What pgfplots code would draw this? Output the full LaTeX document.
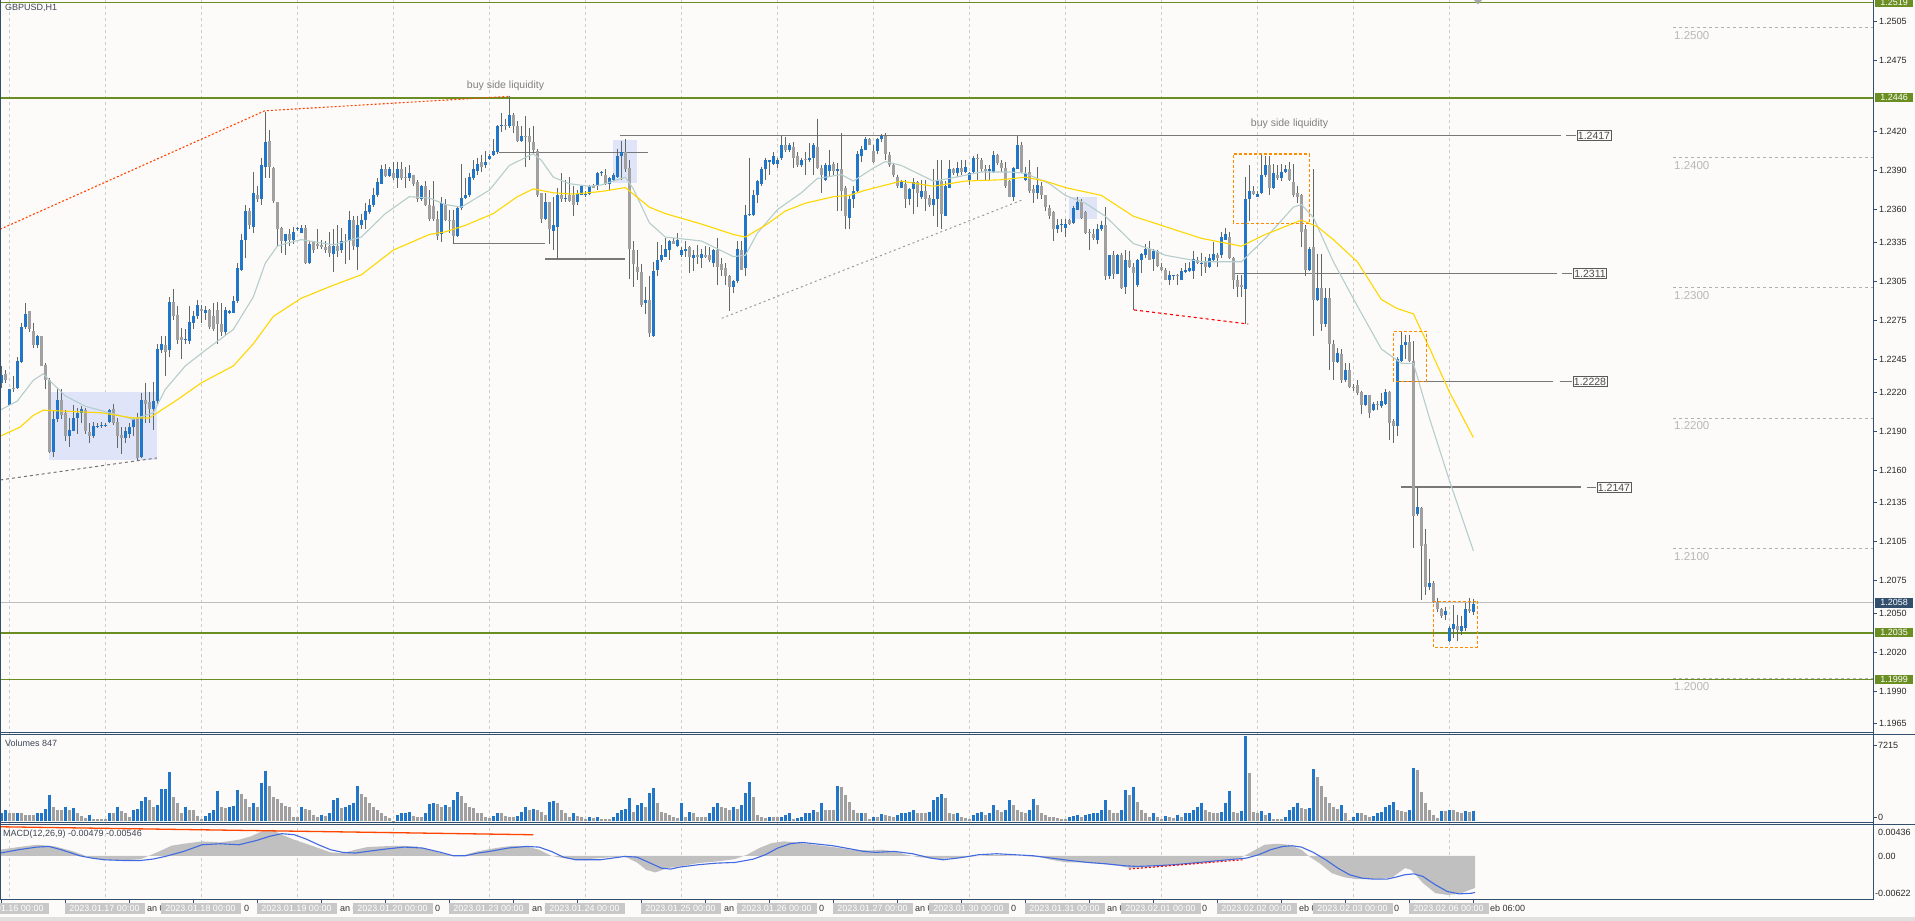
\documentclass[border=0pt]{standalone}
\usepackage{pgfplots}
\pgfplotsset{compat=1.18}
\usepackage{pgfplotstable}
\usepackage{fontspec}
\setmainfont{Liberation Sans}
\definecolor{bg}{RGB}{253,251,249}
\definecolor{bull}{RGB}{33,118,199}
\definecolor{bear}{RGB}{160,160,160}
\definecolor{wick}{RGB}{95,105,105}
\definecolor{lvl}{RGB}{107,142,35}
\definecolor{frame}{RGB}{50,80,110}
\definecolor{gridc}{RGB}{205,205,205}
\definecolor{maslow}{RGB}{255,215,0}
\definecolor{mafast}{RGB}{180,205,205}
\definecolor{boxc}{RGB}{224,228,248}
\definecolor{orng}{RGB}{255,140,0}
\definecolor{redo}{RGB}{255,69,0}
\definecolor{hline}{RGB}{120,120,120}
\definecolor{axtext}{RGB}{40,40,40}
\definecolor{macdg}{RGB}{192,192,192}
\definecolor{sigb}{RGB}{65,105,225}
\definecolor{datebox}{RGB}{200,200,200}
\newcommand\axf{\fontsize{9}{10}\selectfont}

\pgfplotstableread{
i o h l c
0 1.2227 1.2240 1.2223 1.2233
1 1.2234 1.2237 1.2227 1.2229
2 1.2210 1.2222 1.2210 1.2222
3 1.2223 1.2232 1.2220 1.2222
4 1.2223 1.2247 1.2222 1.2244
5 1.2243 1.2273 1.2242 1.2270
6 1.2270 1.2288 1.2268 1.2280
7 1.2282 1.2282 1.2266 1.2268
8 1.2267 1.2273 1.2254 1.2256
9 1.2256 1.2264 1.2254 1.2263
10 1.2263 1.2263 1.2240 1.2240
11 1.2241 1.2242 1.2222 1.2229
12 1.2229 1.2231 1.2173 1.2174
13 1.2174 1.2205 1.2170 1.2199
14 1.2199 1.2223 1.2197 1.2214
15 1.2214 1.2222 1.2199 1.2202
16 1.2204 1.2206 1.2182 1.2186
17 1.2186 1.2200 1.2178 1.2191
18 1.2190 1.2210 1.2190 1.2200
19 1.2200 1.2208 1.2188 1.2204
20 1.2204 1.2209 1.2196 1.2207
21 1.2206 1.2208 1.2188 1.2190
22 1.2189 1.2196 1.2181 1.2186
23 1.2186 1.2197 1.2185 1.2194
24 1.2193 1.2196 1.2192 1.2194
25 1.2194 1.2197 1.2192 1.2195
26 1.2194 1.2196 1.2193 1.2195
27 1.2197 1.2207 1.2196 1.2206
28 1.2207 1.2211 1.2195 1.2196
29 1.2197 1.2200 1.2177 1.2186
30 1.2187 1.2193 1.2172 1.2185
31 1.2185 1.2193 1.2181 1.2190
32 1.2188 1.2196 1.2185 1.2193
33 1.2193 1.2200 1.2186 1.2199
34 1.2200 1.2204 1.2168 1.2169
35 1.2170 1.2219 1.2169 1.2214
36 1.2214 1.2227 1.2196 1.2211
37 1.2212 1.2220 1.2196 1.2207
38 1.2207 1.2228 1.2191 1.2213
39 1.2213 1.2257 1.2211 1.2253
40 1.2252 1.2263 1.2250 1.2257
41 1.2256 1.2263 1.2232 1.2251
42 1.2252 1.2293 1.2247 1.2289
43 1.2289 1.2299 1.2275 1.2278
44 1.2279 1.2286 1.2257 1.2260
45 1.2262 1.2269 1.2245 1.2260
46 1.2260 1.2268 1.2257 1.2261
47 1.2259 1.2286 1.2257 1.2274
48 1.2273 1.2282 1.2268 1.2278
49 1.2278 1.2291 1.2276 1.2287
50 1.2284 1.2287 1.2273 1.2282
51 1.2281 1.2286 1.2275 1.2283
52 1.2283 1.2284 1.2268 1.2270
53 1.2278 1.2288 1.2267 1.2268
54 1.2283 1.2289 1.2257 1.2272
55 1.2272 1.2288 1.2263 1.2266
56 1.2266 1.2285 1.2264 1.2283
57 1.2281 1.2283 1.2280 1.2282
58 1.2281 1.2294 1.2281 1.2290
59 1.2290 1.2319 1.2288 1.2315
60 1.2314 1.2341 1.2313 1.2337
61 1.2337 1.2364 1.2323 1.2359
62 1.2359 1.2361 1.2345 1.2348
63 1.2347 1.2389 1.2342 1.2373
64 1.2371 1.2378 1.2366 1.2368
65 1.2368 1.2400 1.2364 1.2394
66 1.2393 1.2435 1.2384 1.2412
67 1.2413 1.2421 1.2384 1.2393
68 1.2392 1.2393 1.2365 1.2367
69 1.2366 1.2366 1.2332 1.2345
70 1.2346 1.2347 1.2327 1.2336
71 1.2336 1.2341 1.2325 1.2341
72 1.2341 1.2345 1.2332 1.2337
73 1.2337 1.2347 1.2334 1.2343
74 1.2345 1.2347 1.2344 1.2346
75 1.2342 1.2348 1.2342 1.2346
76 1.2346 1.2348 1.2318 1.2319
77 1.2319 1.2336 1.2318 1.2334
78 1.2336 1.2336 1.2327 1.2329
79 1.2334 1.2345 1.2330 1.2332
80 1.2333 1.2337 1.2330 1.2331
81 1.2331 1.2336 1.2327 1.2329
82 1.2332 1.2343 1.2324 1.2327
83 1.2326 1.2345 1.2312 1.2332
84 1.2332 1.2348 1.2324 1.2328
85 1.2329 1.2346 1.2327 1.2336
86 1.2335 1.2341 1.2318 1.2336
87 1.2336 1.2359 1.2321 1.2352
88 1.2352 1.2355 1.2329 1.2332
89 1.2331 1.2355 1.2314 1.2348
90 1.2348 1.2357 1.2345 1.2352
91 1.2352 1.2365 1.2345 1.2359
92 1.2358 1.2368 1.2357 1.2364
93 1.2364 1.2377 1.2362 1.2371
94 1.2371 1.2384 1.2370 1.2381
95 1.2380 1.2394 1.2380 1.2391
96 1.2391 1.2395 1.2385 1.2386
97 1.2386 1.2393 1.2385 1.2391
98 1.2388 1.2397 1.2383 1.2384
99 1.2384 1.2397 1.2377 1.2391
100 1.2391 1.2397 1.2383 1.2384
101 1.2385 1.2393 1.2377 1.2384
102 1.2384 1.2394 1.2382 1.2388
103 1.2387 1.2387 1.2378 1.2380
104 1.2381 1.2383 1.2366 1.2368
105 1.2368 1.2379 1.2367 1.2378
106 1.2378 1.2382 1.2363 1.2364
107 1.2364 1.2375 1.2351 1.2353
108 1.2363 1.2382 1.2351 1.2353
109 1.2353 1.2359 1.2337 1.2340
110 1.2341 1.2370 1.2335 1.2365
111 1.2364 1.2368 1.2351 1.2352
112 1.2352 1.2360 1.2342 1.2351
113 1.2352 1.2360 1.2334 1.2340
114 1.2340 1.2362 1.2339 1.2361
115 1.2361 1.2395 1.2360 1.2369
116 1.2369 1.2384 1.2368 1.2371
117 1.2371 1.2388 1.2370 1.2385
118 1.2384 1.2398 1.2383 1.2391
119 1.2390 1.2400 1.2387 1.2395
120 1.2397 1.2402 1.2389 1.2393
121 1.2394 1.2405 1.2392 1.2397
122 1.2399 1.2403 1.2398 1.2401
123 1.2402 1.2414 1.2401 1.2405
124 1.2404 1.2425 1.2403 1.2424
125 1.2424 1.2434 1.2420 1.2425
126 1.2425 1.2430 1.2421 1.2424
127 1.2424 1.2447 1.2423 1.2433
128 1.2433 1.2434 1.2419 1.2424
129 1.2424 1.2428 1.2412 1.2413
130 1.2413 1.2424 1.2412 1.2417
131 1.2417 1.2432 1.2393 1.2416
132 1.2417 1.2423 1.2398 1.2412
133 1.2412 1.2424 1.2403 1.2406
134 1.2405 1.2407 1.2370 1.2371
135 1.2373 1.2373 1.2350 1.2353
136 1.2353 1.2373 1.2352 1.2366
137 1.2366 1.2366 1.2334 1.2345
138 1.2344 1.2370 1.2329 1.2348
139 1.2347 1.2377 1.2322 1.2371
140 1.2371 1.2388 1.2366 1.2368
141 1.2368 1.2383 1.2366 1.2369
142 1.2371 1.2385 1.2366 1.2367
143 1.2371 1.2378 1.2355 1.2364
144 1.2366 1.2375 1.2364 1.2372
145 1.2371 1.2379 1.2371 1.2378
146 1.2371 1.2374 1.2370 1.2372
147 1.2372 1.2379 1.2371 1.2378
148 1.2378 1.2380 1.2377 1.2377
149 1.2378 1.2389 1.2375 1.2388
150 1.2388 1.2390 1.2386 1.2389
151 1.2387 1.2391 1.2379 1.2380
152 1.2380 1.2385 1.2375 1.2384
153 1.2383 1.2388 1.2382 1.2387
154 1.2385 1.2407 1.2384 1.2401
155 1.2401 1.2413 1.2383 1.2404
156 1.2404 1.2414 1.2389 1.2391
157 1.2392 1.2398 1.2307 1.2330
158 1.2329 1.2336 1.2301 1.2318
159 1.2316 1.2329 1.2306 1.2312
160 1.2312 1.2318 1.2285 1.2287
161 1.2288 1.2301 1.2280 1.2291
162 1.2291 1.2309 1.2262 1.2265
163 1.2263 1.2320 1.2262 1.2313
164 1.2314 1.2335 1.2309 1.2321
165 1.2321 1.2333 1.2320 1.2325
166 1.2324 1.2338 1.2324 1.2330
167 1.2329 1.2337 1.2321 1.2336
168 1.2336 1.2338 1.2334 1.2334
169 1.2332 1.2342 1.2331 1.2337
170 1.2325 1.2331 1.2324 1.2329
171 1.2328 1.2336 1.2324 1.2330
172 1.2331 1.2332 1.2311 1.2324
173 1.2323 1.2329 1.2313 1.2325
174 1.2325 1.2333 1.2318 1.2324
175 1.2323 1.2330 1.2315 1.2326
176 1.2325 1.2332 1.2323 1.2324
177 1.2325 1.2331 1.2320 1.2321
178 1.2319 1.2330 1.2316 1.2329
179 1.2329 1.2338 1.2302 1.2316
180 1.2318 1.2323 1.2309 1.2314
181 1.2315 1.2319 1.2302 1.2309
182 1.2309 1.2310 1.2282 1.2301
183 1.2301 1.2306 1.2296 1.2305
184 1.2305 1.2336 1.2304 1.2330
185 1.2329 1.2336 1.2314 1.2314
186 1.2315 1.2364 1.2309 1.2356
187 1.2356 1.2400 1.2355 1.2357
188 1.2356 1.2375 1.2355 1.2371
189 1.2371 1.2383 1.2365 1.2382
190 1.2380 1.2393 1.2378 1.2391
191 1.2391 1.2400 1.2383 1.2398
192 1.2397 1.2398 1.2387 1.2398
193 1.2395 1.2404 1.2394 1.2401
194 1.2395 1.2400 1.2392 1.2398
195 1.2400 1.2417 1.2398 1.2410
196 1.2410 1.2416 1.2404 1.2406
197 1.2406 1.2411 1.2404 1.2410
198 1.2408 1.2412 1.2392 1.2400
199 1.2401 1.2404 1.2393 1.2394
200 1.2394 1.2400 1.2393 1.2398
201 1.2399 1.2404 1.2387 1.2398
202 1.2398 1.2411 1.2397 1.2400
203 1.2400 1.2411 1.2387 1.2410
204 1.2408 1.2430 1.2391 1.2392
205 1.2392 1.2394 1.2373 1.2387
206 1.2383 1.2396 1.2382 1.2394
207 1.2390 1.2406 1.2386 1.2394
208 1.2395 1.2397 1.2387 1.2390
209 1.2390 1.2396 1.2359 1.2391
210 1.2391 1.2419 1.2359 1.2374
211 1.2377 1.2378 1.2345 1.2355
212 1.2354 1.2371 1.2345 1.2368
213 1.2368 1.2378 1.2361 1.2374
214 1.2374 1.2405 1.2373 1.2403
215 1.2401 1.2409 1.2397 1.2407
216 1.2406 1.2416 1.2406 1.2414
217 1.2414 1.2415 1.2410 1.2410
218 1.2405 1.2410 1.2396 1.2397
219 1.2405 1.2415 1.2403 1.2414
220 1.2414 1.2418 1.2412 1.2417
221 1.2417 1.2419 1.2398 1.2403
222 1.2402 1.2404 1.2393 1.2394
223 1.2394 1.2396 1.2385 1.2387
224 1.2385 1.2387 1.2377 1.2378
225 1.2377 1.2383 1.2377 1.2382
226 1.2380 1.2383 1.2361 1.2368
227 1.2368 1.2377 1.2364 1.2376
228 1.2376 1.2384 1.2357 1.2381
229 1.2381 1.2382 1.2362 1.2373
230 1.2370 1.2383 1.2368 1.2374
231 1.2374 1.2383 1.2359 1.2368
232 1.2369 1.2371 1.2362 1.2364
233 1.2364 1.2391 1.2355 1.2368
234 1.2368 1.2398 1.2347 1.2383
235 1.2382 1.2398 1.2345 1.2357
236 1.2355 1.2382 1.2355 1.2378
237 1.2377 1.2398 1.2377 1.2391
238 1.2391 1.2392 1.2387 1.2388
239 1.2388 1.2397 1.2385 1.2392
240 1.2392 1.2398 1.2387 1.2389
241 1.2389 1.2398 1.2388 1.2393
242 1.2383 1.2389 1.2379 1.2388
243 1.2389 1.2401 1.2388 1.2400
244 1.2400 1.2403 1.2383 1.2399
245 1.2398 1.2400 1.2389 1.2391
246 1.2391 1.2394 1.2383 1.2390
247 1.2390 1.2394 1.2383 1.2391
248 1.2389 1.2405 1.2388 1.2402
249 1.2402 1.2403 1.2394 1.2396
250 1.2396 1.2398 1.2389 1.2392
251 1.2392 1.2397 1.2377 1.2378
252 1.2382 1.2383 1.2370 1.2370
253 1.2370 1.2393 1.2367 1.2392
254 1.2391 1.2417 1.2391 1.2410
255 1.2410 1.2412 1.2388 1.2389
256 1.2383 1.2393 1.2382 1.2388
257 1.2389 1.2398 1.2373 1.2374
258 1.2376 1.2379 1.2365 1.2373
259 1.2373 1.2393 1.2368 1.2379
260 1.2378 1.2381 1.2368 1.2371
261 1.2371 1.2371 1.2359 1.2362
262 1.2361 1.2364 1.2353 1.2355
263 1.2358 1.2359 1.2336 1.2345
264 1.2345 1.2353 1.2342 1.2348
265 1.2348 1.2353 1.2343 1.2349
266 1.2346 1.2353 1.2339 1.2349
267 1.2352 1.2353 1.2348 1.2349
268 1.2350 1.2363 1.2349 1.2361
269 1.2360 1.2370 1.2360 1.2366
270 1.2366 1.2368 1.2353 1.2354
271 1.2358 1.2359 1.2341 1.2342
272 1.2343 1.2345 1.2329 1.2342
273 1.2341 1.2345 1.2337 1.2338
274 1.2337 1.2349 1.2334 1.2345
275 1.2345 1.2351 1.2344 1.2348
276 1.2348 1.2362 1.2306 1.2309
277 1.2309 1.2325 1.2307 1.2325
278 1.2325 1.2328 1.2307 1.2311
279 1.2311 1.2326 1.2311 1.2325
280 1.2325 1.2327 1.2299 1.2300
281 1.2301 1.2329 1.2295 1.2321
282 1.2321 1.2328 1.2315 1.2316
283 1.2316 1.2319 1.2283 1.2311
284 1.2302 1.2322 1.2301 1.2321
285 1.2321 1.2327 1.2311 1.2326
286 1.2325 1.2334 1.2323 1.2330
287 1.2330 1.2336 1.2321 1.2321
288 1.2322 1.2330 1.2313 1.2328
289 1.2328 1.2329 1.2316 1.2317
290 1.2316 1.2319 1.2313 1.2314
291 1.2314 1.2315 1.2306 1.2306
292 1.2306 1.2313 1.2302 1.2310
293 1.2309 1.2310 1.2306 1.2310
294 1.2310 1.2311 1.2302 1.2309
295 1.2306 1.2315 1.2306 1.2313
296 1.2312 1.2319 1.2311 1.2314
297 1.2313 1.2320 1.2312 1.2315
298 1.2313 1.2328 1.2307 1.2322
299 1.2321 1.2324 1.2318 1.2319
300 1.2318 1.2327 1.2309 1.2319
301 1.2320 1.2324 1.2311 1.2316
302 1.2316 1.2326 1.2315 1.2323
303 1.2321 1.2335 1.2320 1.2326
304 1.2325 1.2327 1.2316 1.2323
305 1.2325 1.2343 1.2323 1.2339
306 1.2337 1.2346 1.2337 1.2341
307 1.2339 1.2343 1.2322 1.2323
308 1.2323 1.2324 1.2299 1.2306
309 1.2306 1.2310 1.2293 1.2301
310 1.2302 1.2310 1.2293 1.2301
311 1.2299 1.2385 1.2272 1.2368
312 1.2368 1.2394 1.2351 1.2374
313 1.2374 1.2378 1.2371 1.2372
314 1.2370 1.2374 1.2370 1.2372
315 1.2373 1.2402 1.2372 1.2387
316 1.2387 1.2401 1.2385 1.2394
317 1.2394 1.2401 1.2371 1.2377
318 1.2377 1.2395 1.2376 1.2388
319 1.2387 1.2394 1.2383 1.2384
320 1.2384 1.2395 1.2382 1.2389
321 1.2389 1.2394 1.2388 1.2391
322 1.2391 1.2397 1.2382 1.2383
323 1.2381 1.2395 1.2370 1.2371
324 1.2373 1.2378 1.2365 1.2370
325 1.2371 1.2372 1.2331 1.2343
326 1.2345 1.2348 1.2309 1.2314
327 1.2314 1.2331 1.2313 1.2330
328 1.2331 1.2391 1.2263 1.2291
329 1.2291 1.2326 1.2290 1.2300
330 1.2300 1.2326 1.2267 1.2272
331 1.2272 1.2300 1.2270 1.2292
332 1.2292 1.2300 1.2237 1.2257
333 1.2257 1.2260 1.2229 1.2243
334 1.2243 1.2254 1.2242 1.2250
335 1.2249 1.2253 1.2227 1.2229
336 1.2229 1.2242 1.2228 1.2237
337 1.2237 1.2242 1.2223 1.2224
338 1.2224 1.2226 1.2221 1.2223
339 1.2225 1.2229 1.2218 1.2219
340 1.2220 1.2221 1.2203 1.2210
341 1.2210 1.2218 1.2209 1.2218
342 1.2218 1.2218 1.2200 1.2204
343 1.2206 1.2212 1.2205 1.2211
344 1.2211 1.2213 1.2206 1.2210
345 1.2209 1.2219 1.2208 1.2213
346 1.2211 1.2222 1.2210 1.2220
347 1.2220 1.2221 1.2183 1.2196
348 1.2198 1.2199 1.2181 1.2194
349 1.2194 1.2247 1.2186 1.2245
350 1.2244 1.2266 1.2243 1.2256
351 1.2256 1.2264 1.2245 1.2258
352 1.2258 1.2264 1.2243 1.2244
353 1.2244 1.2259 1.2100 1.2125
354 1.2126 1.2147 1.2125 1.2132
355 1.2131 1.2132 1.2060 1.2102
356 1.2103 1.2115 1.2064 1.2070
357 1.2070 1.2092 1.2068 1.2073
358 1.2073 1.2075 1.2058 1.2059
359 1.2059 1.2062 1.2051 1.2053
360 1.2053 1.2054 1.2046 1.2048
361 1.2049 1.2055 1.2045 1.2052
362 1.2029 1.2040 1.2028 1.2039
363 1.2038 1.2056 1.2031 1.2042
364 1.2040 1.2049 1.2029 1.2037
365 1.2036 1.2048 1.2033 1.2040
366 1.2039 1.2058 1.2036 1.2053
367 1.2053 1.2062 1.2050 1.2052
368 1.2051 1.2061 1.2049 1.2057
}\candles

\pgfplotstableread{
i v up
0 690 1
1 970 1
2 745 0
3 690 0
4 745 1
5 690 0
6 550 0
7 550 0
8 550 0
9 690 1
10 745 1
11 1030 1
12 2230 1
13 1250 0
14 970 0
15 970 0
16 1190 1
17 970 0
18 1110 1
19 690 0
20 460 0
21 270 0
22 550 1
23 180 0
24 180 0
25 180 0
26 180 0
27 690 1
28 690 0
29 1250 1
30 910 0
31 745 0
32 410 0
33 970 1
34 1030 1
35 1760 1
36 2090 1
37 1810 0
38 1250 0
39 1390 1
40 2710 1
41 2740 1
42 4200 1
43 2090 0
44 1530 0
45 690 0
46 1190 1
47 970 0
48 970 0
49 460 0
50 180 0
51 460 1
52 745 1
53 970 1
54 2600 1
55 1250 0
56 1110 0
57 1190 1
58 1310 1
59 2655 1
60 2320 0
61 1870 0
62 1250 0
63 1530 1
64 1250 0
65 3270 1
66 4260 1
67 2990 0
68 2090 0
69 1870 0
70 1530 0
71 1310 0
72 1250 0
73 410 0
74 410 0
75 1190 1
76 1030 0
77 970 0
78 550 0
79 410 0
80 550 1
81 460 0
82 745 1
83 1810 1
84 1950 1
85 1110 0
86 1190 1
87 1390 1
88 1530 1
89 2990 1
90 2320 0
91 2090 0
92 1530 0
93 1250 0
94 970 0
95 690 0
96 460 0
97 270 0
98 40 0
99 550 1
100 690 1
101 745 1
102 830 1
103 460 0
104 410 0
105 410 0
106 745 1
107 1475 1
108 1530 1
109 1475 0
110 1250 0
111 1390 1
112 1250 0
113 1810 1
114 2515 1
115 2150 0
116 1530 0
117 1250 0
118 1110 0
119 745 0
120 745 0
121 410 0
122 270 0
123 460 1
124 745 1
125 745 0
126 460 0
127 410 0
128 410 0
129 460 1
130 830 1
131 1250 1
132 970 0
133 1030 1
134 970 0
135 830 0
136 550 0
137 1670 1
138 1760 1
139 1530 0
140 970 0
141 690 0
142 410 0
143 690 1
144 460 0
145 410 0
146 180 0
147 410 1
148 270 0
149 410 1
150 180 0
151 180 0
152 180 0
153 410 1
154 690 1
155 970 1
156 1030 1
157 1950 1
158 830 0
159 1390 1
160 1530 1
161 1250 0
162 2430 1
163 2800 1
164 1530 0
165 830 0
166 690 0
167 550 0
168 410 0
169 270 0
170 1530 1
171 410 0
172 830 1
173 690 0
174 410 0
175 410 0
176 350 0
177 745 1
178 1250 1
179 1530 1
180 1250 0
181 1110 0
182 970 0
183 1250 1
184 1030 0
185 1390 1
186 2370 1
187 3360 1
188 2090 0
189 550 0
190 410 0
191 270 0
192 410 1
193 410 0
194 350 0
195 410 1
196 550 1
197 690 1
198 180 0
199 270 1
200 410 1
201 690 1
202 745 1
203 970 1
204 830 0
205 1590 1
206 970 0
207 970 0
208 970 0
209 2990 1
210 2940 0
211 2230 0
212 1670 0
213 970 0
214 690 0
215 745 1
216 690 0
217 180 0
218 410 1
219 410 0
220 630 1
221 550 0
222 460 0
223 410 0
224 550 1
225 690 1
226 745 1
227 830 1
228 970 1
229 745 0
230 745 0
231 745 0
232 830 1
233 1810 1
234 2090 1
235 2320 1
236 1950 0
237 690 0
238 630 0
239 690 1
240 410 0
241 270 0
242 180 0
243 550 1
244 690 1
245 830 1
246 550 0
247 745 1
248 1390 1
249 970 0
250 830 0
251 970 1
252 1810 1
253 1390 0
254 970 0
255 830 0
256 690 0
257 970 1
258 1870 1
259 1390 0
260 745 0
261 550 0
262 410 0
263 410 0
264 270 0
265 180 0
266 180 0
267 410 1
268 460 1
269 550 1
270 410 0
271 550 1
272 630 1
273 690 1
274 745 1
275 970 1
276 1810 1
277 970 0
278 745 0
279 690 0
280 970 1
281 2655 1
282 2230 0
283 2880 1
284 1670 0
285 970 0
286 690 0
287 410 0
288 745 1
289 410 0
290 180 0
291 460 1
292 410 0
293 270 0
294 550 1
295 410 0
296 690 1
297 745 1
298 970 1
299 1250 1
300 1530 1
301 970 0
302 830 0
303 745 0
304 690 0
305 830 1
306 1530 1
307 2600 1
308 830 0
309 745 0
310 910 1
311 7215 1
312 4120 0
313 830 0
314 690 0
315 910 1
316 550 0
317 690 1
318 180 0
319 180 0
320 180 0
321 410 1
322 970 1
323 1250 1
324 1530 1
325 1110 0
326 1030 0
327 1110 1
328 4450 1
329 3780 0
330 2990 0
331 2090 0
332 1530 0
333 1250 0
334 1030 0
335 1390 1
336 690 0
337 130 0
338 410 1
339 745 1
340 690 0
341 550 0
342 410 0
343 460 1
344 690 1
345 830 1
346 1250 1
347 1390 1
348 1620 1
349 970 0
350 910 0
351 830 0
352 970 1
353 4480 1
354 4340 0
355 2515 0
356 1530 0
357 970 0
358 550 0
359 270 0
360 910 1
361 910 0
362 970 1
363 970 0
364 830 0
365 745 0
366 910 1
367 830 0
368 860 1
}\vols

\pgfplotstableread{
i p
-0.3 1.2186
4.7 1.2193
8 1.2202
10.5 1.2206
25 1.2204
33 1.2200
37 1.2200
39 1.2204
44 1.2214
50 1.2227
58 1.2240
63 1.2257
68 1.2278
75 1.2292
83 1.2302
90 1.2310
98 1.2329
107 1.2341
111 1.2343
116 1.2348
123 1.2357
129 1.2370
133 1.2376
138 1.2373
143 1.2372
150 1.2374
156 1.2377
162 1.2362
166 1.2357
175 1.2349
183 1.2341
186 1.2339
191 1.2348
196 1.2359
201 1.2365
208 1.2370
212 1.2371
216 1.2375
225 1.2382
233 1.2378
241 1.2382
250 1.2383
256 1.2385
261 1.2382
266 1.2377
275 1.2371
283 1.2355
291 1.2347
300 1.2338
310 1.2332
316 1.2341
325 1.2352
329 1.2347
333 1.2337
339 1.2320
345 1.2291
349 1.2284
353 1.2280
357 1.2254
362 1.2220
368 1.2185
}\maslowtab

\pgfplotstableread{
i p
-0.3 1.2206
4 1.2213
8 1.2229
10.5 1.2234
12 1.2229
16 1.2217
21 1.2209
27 1.2204
33 1.2199
38 1.2204
41 1.2222
46 1.2240
51 1.2252
58 1.2268
63 1.2293
66 1.2319
69 1.2332
71 1.2334
75 1.2337
83 1.2333
90 1.2339
96 1.2357
102 1.2370
107 1.2369
111 1.2364
115 1.2362
122 1.2375
127 1.2394
133 1.2403
135 1.2398
138 1.2385
142 1.2380
147 1.2378
150 1.2379
156 1.2385
158 1.2376
162 1.2350
166 1.2339
175 1.2336
183 1.2324
186 1.2325
189 1.2342
194 1.2360
200 1.2373
204 1.2384
210 1.2387
213 1.2382
218 1.2392
221 1.2397
225 1.2394
233 1.2382
237 1.2384
245 1.2389
252 1.2389
256 1.2388
262 1.2380
266 1.2371
271 1.2365
276 1.2355
283 1.2334
288 1.2329
291 1.2325
300 1.2320
310 1.2320
316 1.2338
323 1.2362
325 1.2364
328 1.2354
333 1.2320
339 1.2286
345 1.2253
350 1.2242
353 1.2242
357 1.2200
362 1.2152
368 1.2098
}\mafasttab

\pgfplotstableread{
i v
-0.3 0
-0.3 0.00090
4.3 0.00129
8.9 0.00164
13.4 0.00139
18.0 0.00065
22.6 -0.00035
25.7 -0.00060
30.3 -0.00070
34.9 -0.00050
39.5 0.00065
42.5 0.00149
45.6 0.00179
50.2 0.00214
54.8 0.00199
59.4 0.00239
62.4 0.00289
65.5 0.00374
67.8 0.00388
70.1 0.00314
73.2 0.00239
76.2 0.00179
79.3 0.00115
82.3 0.00050
85.4 0.00040
88.5 0.00090
91.5 0.00129
94.6 0.00139
99.2 0.00149
103.8 0.00139
106.8 0.00090
109.9 0.00040
113.0 0.00005
116.0 0.00015
119.1 0.00065
122.1 0.00100
125.2 0.00129
128.3 0.00149
131.3 0.00139
134.4 0.00090
137.5 0.00000
140.5 -0.00035
143.6 -0.00060
146.6 -0.00050
149.7 -0.00035
152.8 -0.00020
155.8 -0.00010
158.9 -0.00100
161.2 -0.00209
163.5 -0.00249
166.5 -0.00184
169.6 -0.00159
174.2 -0.00110
178.8 -0.00085
183.4 -0.00050
186.4 0.00015
189.5 0.00115
192.6 0.00189
195.6 0.00214
198.7 0.00199
203.3 0.00164
207.9 0.00129
212.5 0.00090
217.1 0.00080
220.1 0.00090
223.2 0.00065
226.2 0.00015
229.3 -0.00020
233.9 -0.00050
239.7 -0.00030
247.3 0.00015
254.9 0.00000
259.5 -0.00020
262.5 -0.00060
266.3 -0.00100
270.1 -0.00100
274.7 -0.00120
279.3 -0.00149
282.3 -0.00184
285.4 -0.00169
289.9 -0.00149
294.5 -0.00120
300.6 -0.00100
305.2 -0.00070
309.7 -0.00035
312.8 0.00065
315.8 0.00164
318.9 0.00179
321.9 0.00164
325.0 0.00090
327.2 -0.00020
329.5 -0.00110
332.6 -0.00259
335.6 -0.00319
338.7 -0.00349
341.7 -0.00349
344.8 -0.00349
347.8 -0.00319
350.9 -0.00184
352.4 -0.00209
355.4 -0.00408
358.5 -0.00558
361.5 -0.00583
364.5 -0.00568
367.6 -0.00498
368.4 -0.00479
368.4 0
}\macdhist

\pgfplotstableread{
i v
-0.3 0.00040
4.3 0.00090
8.9 0.00129
11.9 0.00139
15.0 0.00090
19.6 0.00000
22.6 -0.00035
25.7 -0.00060
30.3 -0.00070
34.9 -0.00070
37.9 -0.00050
41.0 -0.00010
45.6 0.00065
50.2 0.00164
54.8 0.00179
59.4 0.00164
63.9 0.00229
67.0 0.00289
70.1 0.00329
73.2 0.00314
76.2 0.00249
79.3 0.00164
82.3 0.00090
85.4 0.00050
88.5 0.00040
91.5 0.00065
96.1 0.00100
100.7 0.00129
105.3 0.00115
109.9 0.00050
113.0 0.00000
116.0 0.00000
119.1 0.00040
122.1 0.00065
126.7 0.00115
131.3 0.00139
134.4 0.00129
137.5 0.00065
140.5 -0.00020
143.6 -0.00060
149.7 -0.00060
152.8 -0.00035
155.8 -0.00010
158.9 -0.00020
161.9 -0.00100
165.0 -0.00184
167.3 -0.00199
169.6 -0.00169
174.2 -0.00134
178.8 -0.00110
183.4 -0.00100
188.0 -0.00050
191.0 0.00015
194.1 0.00115
197.2 0.00179
200.2 0.00199
203.3 0.00179
207.9 0.00149
212.5 0.00100
215.5 0.00065
218.6 0.00050
223.2 0.00065
227.8 0.00030
232.4 -0.00035
235.4 -0.00060
239.7 -0.00030
244.3 0.00015
248.8 0.00030
253.4 0.00015
258.0 0.00000
262.5 -0.00035
267.1 -0.00070
271.7 -0.00100
276.2 -0.00120
280.8 -0.00149
283.9 -0.00159
288.4 -0.00149
293.0 -0.00134
297.6 -0.00110
302.1 -0.00085
306.7 -0.00060
311.3 -0.00035
314.3 0.00015
317.3 0.00090
320.4 0.00139
322.7 0.00149
325.0 0.00129
328.0 0.00050
331.1 -0.00060
334.1 -0.00184
337.1 -0.00284
340.2 -0.00334
343.2 -0.00349
346.3 -0.00349
348.6 -0.00319
350.8 -0.00284
353.1 -0.00269
355.4 -0.00309
358.5 -0.00433
361.5 -0.00533
364.5 -0.00568
367.6 -0.00558
368.4 -0.00546
}\macdsig

\begin{document}
\begin{tikzpicture}
\fill[bg] (0pt,0pt) rectangle (1915pt,921pt);
% vertical dashed grid
\begin{scope}[shift={(0pt,921pt)},x=1pt,y=-1pt]
\foreach \k in {0,...,15}{
  \draw[gridc, line width=0.9pt, dash pattern=on 3pt off 3pt] ({9.3+96*\k},0) -- ({9.3+96*\k},899);
}
\end{scope}

% ================= MAIN PRICE PANEL =================
\begin{axis}[at={(0pt,189pt)},anchor=south west,scale only axis,
  width=1873pt,height=732pt,xmin=-0.325,xmax=467.9,ymin=1.19588,ymax=1.25211,
  hide axis,clip=false]
\fill[boxc] (axis cs:12.0,1.21678) rectangle (axis cs:38.9,1.22200);
\fill[boxc] (axis cs:152.8,1.23808) rectangle (axis cs:158.8,1.24136);
\fill[boxc] (axis cs:266.9,1.23529) rectangle (axis cs:273.8,1.23700);
\addplot[lvl, line width=1.5pt] coordinates {(-0.325,1.2519) (467.9,1.2519)};
\addplot[lvl, line width=1.5pt] coordinates {(-0.325,1.2446) (467.9,1.2446)};
\addplot[lvl, line width=1.5pt] coordinates {(-0.325,1.2035) (467.9,1.2035)};
\addplot[lvl, line width=1.5pt] coordinates {(-0.325,1.1999) (467.9,1.1999)};
\addplot[black!25, line width=1.2pt] coordinates {(-0.325,1.2058) (467.9,1.2058)};
\addplot[hline, line width=1.2pt] coordinates {(154.7,1.2417) (389.9,1.2417)};
\addplot[hline, line width=1.2pt] coordinates {(307.9,1.2311) (388.8,1.2311)};
\addplot[hline, line width=1.2pt] coordinates {(349.0,1.2228) (388.0,1.2228)};
\addplot[hline, line width=1.2pt] coordinates {(350.0,1.2147) (394.8,1.2147)};
\addplot[hline, line width=1.2pt] coordinates {(124.4,1.2404) (161.7,1.2404)};
\addplot[hline, line width=1.2pt] coordinates {(112.9,1.23342) (135.9,1.23342)};
\addplot[hline, line width=1.2pt] coordinates {(135.9,1.23221) (155.9,1.23221)};
\foreach \p in {1.25,1.24,1.23,1.22,1.21,1.20}{
  \edef\tmp{\noexpand\addplot[black!30, line width=1pt, dash pattern=on 3pt off 3pt] coordinates {(418.0,\p) (467.9,\p)};}\tmp
}
\addplot[wick, line width=1pt, quiver={u=0, v={\thisrow{l}-\thisrow{h}}}]
  table[x=i, y=h] {\candles};
\addplot[bull, line width=3pt, unbounded coords=discard, quiver={u=0, v={\thisrow{c}-\thisrow{o}}}]
  table[x=i, y expr={\thisrow{c}>\thisrow{o} ? \thisrow{o} : nan}] {\candles};
\addplot[bear, line width=3pt, unbounded coords=discard, quiver={u=0, v={min(\thisrow{c}-\thisrow{o},-0.00008)}}]
  table[x=i, y expr={\thisrow{c}>\thisrow{o} ? nan : \thisrow{o}}] {\candles};
\addplot[mafast, line width=1.1pt] table[x=i, y=p] {\mafasttab};
\addplot[maslow, line width=1.1pt] table[x=i, y=p] {\maslowtab};
\addplot[redo, line width=1.1pt, dash pattern=on 2pt off 2pt] coordinates {(-0.3,1.2345) (65.9,1.2436) (120.9,1.2446) (126.9,1.2447)};
\addplot[black!55, line width=1pt, dash pattern=on 3pt off 3pt] coordinates {(-0.3,1.21524) (38.9,1.21693)};
\addplot[black!40, line width=1pt, dash pattern=on 2pt off 3pt] coordinates {(180.1,1.22766) (255.6,1.23680)};
\addplot[red, line width=1.1pt, dash pattern=on 3pt off 3pt] coordinates {(283.2,1.22830) (311.7,1.22722)};
\draw[orng, line width=1.1pt, dash pattern=on 3pt off 2pt] (axis cs:308.0,1.23497) rectangle (axis cs:327.0,1.24028);
\draw[orng, line width=1.1pt, dash pattern=on 3pt off 2pt] (axis cs:348.0,1.22283) rectangle (axis cs:356.2,1.22666);
\draw[orng, line width=1.1pt, dash pattern=on 3pt off 2pt] (axis cs:358.0,1.20240) rectangle (axis cs:369.0,1.20592);
\end{axis}

% ================= VOLUME PANEL =================
\begin{axis}[at={(0pt,99.5pt)},anchor=south west,scale only axis,
  width=1873pt,height=85.5pt,xmin=-0.325,xmax=467.9,ymin=0,ymax=7215,
  hide axis,clip=false]
\addplot[bull, line width=3pt, unbounded coords=discard, quiver={u=0, v={\thisrow{v}}}]
  table[x=i, y expr={\thisrow{up}>0 ? 0 : nan}] {\vols};
\addplot[bear, line width=3pt, unbounded coords=discard, quiver={u=0, v={\thisrow{v}}}]
  table[x=i, y expr={\thisrow{up}>0 ? nan : 0}] {\vols};
\end{axis}

% ================= MACD PANEL =================
\begin{axis}[at={(0pt,23.5pt)},anchor=south west,scale only axis,
  width=1873pt,height=71pt,xmin=-0.325,xmax=467.9,ymin=-0.00622,ymax=0.00436,
  hide axis,clip=false]
\addplot[fill=macdg, draw=none] table[x=i, y=v] {\macdhist} \closedcycle;
\addplot[sigb, line width=1.1pt] table[x=i, y=v] {\macdsig};
\addplot[redo, line width=1.3pt] coordinates {(-0.3,0.00432) (133,0.00313)};
\addplot[red, line width=1.1pt, dash pattern=on 2pt off 2pt] coordinates {(281.9,-0.00198) (310.4,-0.0006)};
\end{axis}

% ================= FRAMES AND TEXT =================
\begin{scope}[shift={(0pt,921pt)},x=1pt,y=-1pt]
\draw[frame, line width=1.2pt] (0.6,0) -- (0.6,899.5);
\draw[frame, line width=1.2pt] (1873.5,0) -- (1873.5,899.5);
\draw[frame, line width=1pt] (0,732.5) -- (1873.5,732.5);
\draw[frame, line width=1pt] (0,734.8) -- (1915,734.8);
\draw[frame, line width=1pt] (0,822.5) -- (1873.5,822.5);
\draw[frame, line width=1pt] (0,824.8) -- (1915,824.8);
\draw[frame, line width=1.2pt] (0,899.5) -- (1873.5,899.5);
\fill[black!12] (0,917.5) rectangle (1915,921);
\fill[black!35] (1474,0) -- (1482,0) -- (1478,4.5) -- cycle;
\node[anchor=west, font=\axf, text={rgb,255:red,60;green,70;blue,85}, inner sep=0] at (5,7.5) {GBPUSD,H1};
\node[anchor=west, font=\axf, text={rgb,255:red,60;green,70;blue,85}, inner sep=0] at (5,743.5) {Volumes 847};
\node[anchor=west, font=\axf, text={rgb,255:red,60;green,70;blue,85}, inner sep=0] at (3,834) {MACD(12,26,9) -0.00479 -0.00546};
\node[font=\fontsize{10.5}{12}\selectfont, text=black!50, inner sep=0] at (505.5,86) {buy side liquidity};
\node[font=\fontsize{10.5}{12}\selectfont, text=black!50, inner sep=0] at (1289.5,124) {buy side liquidity};
\foreach \p/\y in {1.2500/27.5,1.2400/157.7,1.2300/287.9,1.2200/418.0,1.2100/548.2,1.2000/678.4}{
  \node[anchor=west, font=\fontsize{11.5}{13}\selectfont, text=black!28, inner sep=0] at (1674,\y+8) {\p};
}
\draw[hline, line width=1.2pt] (1566,135.6) -- (1576,135.6);
\node[draw=black!65, fill=bg, font=\fontsize{10.5}{12}\selectfont, text=black!70, inner xsep=1pt, inner ysep=1.5pt, line width=0.9pt] at (1594,135.6) {1.2417};
\draw[hline, line width=1.2pt] (1562,273.5) -- (1572,273.5);
\node[draw=black!65, fill=bg, font=\fontsize{10.5}{12}\selectfont, text=black!70, inner xsep=1pt, inner ysep=1.5pt, line width=0.9pt] at (1590,273.5) {1.2311};
\draw[hline, line width=1.2pt] (1559.5,381.6) -- (1572.4,381.6);
\node[draw=black!65, fill=bg, font=\fontsize{10.5}{12}\selectfont, text=black!70, inner xsep=1pt, inner ysep=1.5pt, line width=0.9pt] at (1590,381.6) {1.2228};
\draw[hline, line width=1.2pt] (1586.6,487.5) -- (1596,487.5);
\node[draw=black!65, fill=bg, font=\fontsize{10.5}{12}\selectfont, text=black!70, inner xsep=1pt, inner ysep=1.5pt, line width=0.9pt] at (1614,487.5) {1.2147};
\foreach \p/\y in {1.2505/21,1.2475/60.1,1.2420/131.7,1.2390/170.7,1.2360/209.8,1.2335/242.3,1.2305/281.4,1.2275/320.4,1.2245/359.5,1.2220/392.0,1.2190/431.1,1.2160/470.1,1.2135/502.7,1.2105/541.7,1.2075/580.7,1.2050/613.3,1.2020/652.3,1.1990/691.4,1.1965/723.9}{
  \draw[frame, line width=0.8pt] (1873.5,\y) -- (1877,\y);
  \node[anchor=west, font=\axf, text=axtext, inner sep=0] at (1879,\y) {\p};
}
\foreach \p/\y/\c in {1.2519/2.8/lvl,1.2446/97.8/lvl,1.2058/602.9/frame,1.2035/632.8/lvl,1.1999/679.7/lvl}{
  \node[anchor=west, fill=\c, font=\axf, text=white, inner xsep=3pt, inner ysep=1.5pt, minimum width=38pt] at (1875,\y) {\p};
}
\draw[frame, line width=0.8pt] (1873.5,745) -- (1877,745);
\draw[frame, line width=0.8pt] (1873.5,817) -- (1877,817);
\node[anchor=west, font=\axf, text=axtext, inner sep=0] at (1878,745) {7215};
\node[anchor=west, font=\axf, text=axtext, inner sep=0] at (1878,817) {0};
\node[anchor=west, font=\axf, text=axtext, inner sep=0] at (1878,832) {0.00436};
\node[anchor=west, font=\axf, text=axtext, inner sep=0] at (1878,856) {0.00};
\node[anchor=west, font=\axf, text=axtext, inner sep=0] at (1875,893) {-0.00622};
% bottom time scale
\foreach \k in {0,...,23}{
  \draw[frame, line width=0.8pt] ({1.3+64*\k},899.5) -- ({1.3+64*\k},903);
}
\foreach \x/\t in {147/an 0,244/0,340/an 0,435/0,532/an 0,724/an 0,819/0,915/an 0,1011/0,1107/an 0,1202/0,1299/eb 0,1394/0,1490/eb 06:00}{
  \node[anchor=west, font=\axf, text=black!80, inner sep=0] at (\x,908.5) {\t};
}
\foreach \k/\t in {-1/2023.01.16 00:00,0/2023.01.17 00:00,1/2023.01.18 00:00,2/2023.01.19 00:00,3/2023.01.20 00:00,4/2023.01.23 00:00,5/2023.01.24 00:00,6/2023.01.25 00:00,7/2023.01.26 00:00,8/2023.01.27 00:00,9/2023.01.30 00:00,10/2023.01.31 00:00,11/2023.02.01 00:00,12/2023.02.02 00:00,13/2023.02.03 00:00,14/2023.02.06 00:00}{
  \node[anchor=west, fill=datebox, font=\axf, text=white, inner sep=0, minimum width=80pt, minimum height=11pt] at ({64.3+96*\k},908.5) {\t};
}
\end{scope}
\pgfresetboundingbox
\path[use as bounding box] (0pt,0pt) rectangle (1915pt,921pt);
\end{tikzpicture}
\end{document}
